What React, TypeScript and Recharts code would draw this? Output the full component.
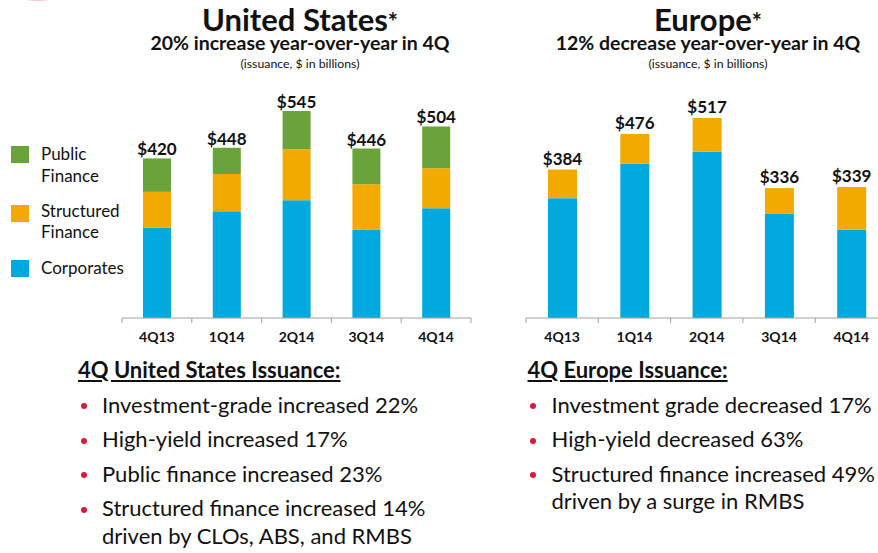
import { Bar, BarChart, LabelList, XAxis, YAxis } from "recharts";

const QUARTERS = ["4Q13", "1Q14", "2Q14", "3Q14", "4Q14"];

const US_CORPORATES = [238, 281, 310, 233, 289];
const US_STRUCTURED = [94, 98, 134, 119, 105];
const US_PUBLIC = [88, 69, 101, 94, 110];
const US_TOTALS = [420, 448, 545, 446, 504];

const EU_CORPORATES = [310, 399, 430, 270, 228];
const EU_STRUCTURED = [74, 77, 87, 66, 111];
const EU_TOTALS = [384, 476, 517, 336, 339];

const LEGEND_ITEMS = [
  { key: "public", lines: ["Public", "Finance"] },
  { key: "structured", lines: ["Structured", "Finance"] },
  { key: "corporates", lines: ["Corporates"] },
];

const US_BULLETS = [
  ["Investment-grade increased 22%"],
  ["High-yield increased 17%"],
  ["Public finance increased 23%"],
  ["Structured finance increased 14%", "driven by CLOs, ABS, and RMBS"],
];

const EU_BULLETS = [
  ["Investment grade decreased 17%"],
  ["High-yield decreased 63%"],
  ["Structured finance increased 49%", "driven by a surge in RMBS"],
];

const COLORS: Record<string, string> = {
  public: "#6ba33b",
  structured: "#f2aa00",
  corporates: "#00a9de",
};
const AXIS = "#a0a0a0";
const BULLET_RED = "#e0163c";
const FONT = "Lato, 'Open Sans', sans-serif";

const usData = QUARTERS.map((q, i) => ({
  quarter: q,
  corporates: US_CORPORATES[i],
  structured: US_STRUCTURED[i],
  public: US_PUBLIC[i],
  total: US_TOTALS[i],
}));

const euData = QUARTERS.map((q, i) => ({
  quarter: q,
  corporates: EU_CORPORATES[i],
  structured: EU_STRUCTURED[i],
  total: EU_TOTALS[i],
}));

// tick marks sit on the category boundaries, labels in the middle
function makeTick(band: number) {
  return (props: any) => {
    const { x, y, payload } = props;
    const half = band / 2;
    const isLast = payload.value === QUARTERS[QUARTERS.length - 1];
    return (
      <g>
        <line x1={x - half} x2={x - half} y1={y} y2={y + 5} stroke={AXIS} />
        {isLast && <line x1={x + half} x2={x + half} y1={y} y2={y + 5} stroke={AXIS} />}
        <text x={x} y={y + 24} textAnchor="middle" fontFamily={FONT} fontWeight={700} fontSize={14} fill="#111">
          {payload.value}
        </text>
      </g>
    );
  };
}

function RegionChart({ data, left, width, marginLeft, marginRight, marginTop, barSize, labelOffset, withPublic }: any) {
  const plotWidth = width - marginLeft - marginRight;
  const band = plotWidth / QUARTERS.length;
  const label = (
    <LabelList
      dataKey="total"
      position="top"
      offset={labelOffset}
      formatter={(v: any) => `$${v}`}
      style={{ fontFamily: FONT, fontWeight: 700, fontSize: 17, fill: "#111" }}
    />
  );
  return (
    <div style={{ position: "absolute", left, top: 0 }}>
      <BarChart
        width={width}
        height={360}
        data={data}
        barSize={barSize}
        margin={{ top: marginTop, right: marginRight, bottom: 12, left: marginLeft }}
      >
        <XAxis
          dataKey="quarter"
          height={30}
          axisLine={{ stroke: AXIS }}
          tickLine={false}
          tickSize={0}
          tickMargin={0}
          interval={0}
          tick={makeTick(band)}
        />
        <YAxis hide domain={[0, 600]} />
        <Bar dataKey="corporates" stackId="a" fill={COLORS.corporates} isAnimationActive={false} />
        <Bar dataKey="structured" stackId="a" fill={COLORS.structured} isAnimationActive={false}>
          {!withPublic && label}
        </Bar>
        {withPublic && (
          <Bar dataKey="public" stackId="a" fill={COLORS.public} isAnimationActive={false}>
            {label}
          </Bar>
        )}
      </BarChart>
    </div>
  );
}

function Heading({ center, title, subtitle }: { center: number; title: string; subtitle: string }) {
  const box = {
    position: "absolute" as const,
    left: center - 220,
    width: 440,
    textAlign: "center" as const,
    whiteSpace: "nowrap" as const,
  };
  return (
    <>
      <div style={{ ...box, top: 6, fontSize: 31, lineHeight: "26px", fontWeight: 700 }}>
        {title}
        <span style={{ fontSize: 24 }}>*</span>
      </div>
      <div style={{ ...box, top: 33, fontSize: 19.5, lineHeight: "19.5px", fontWeight: 700 }}>{subtitle}</div>
      <div style={{ ...box, top: 58, fontSize: 12.3, lineHeight: "12.3px" }}>(issuance, $ in billions)</div>
    </>
  );
}

function Bullets({ left, heading, items }: { left: number; heading: string; items: string[][] }) {
  const rows: { text: string; baseline: number; dot: boolean }[] = [];
  let baseline = 413.3;
  items.forEach((lines) => {
    lines.forEach((t, j) => {
      rows.push({ text: t, baseline, dot: j === 0 });
      baseline += j < lines.length - 1 ? 27.6 : 0;
    });
    baseline += 34.4;
  });
  const size = 22;
  const headSize = 22;
  return (
    <>
      <div
        style={{
          position: "absolute",
          left,
          top: 378.3 - 0.887 * headSize,
          fontSize: headSize,
          lineHeight: `${headSize}px`,
          fontWeight: 700,
          textDecoration: "underline",
          whiteSpace: "nowrap",
        }}
      >
        {heading}
      </div>
      {rows.map((r, i) => (
        <div key={i}>
          {r.dot && (
            <div
              style={{
                position: "absolute",
                left: left + 2.5,
                top: r.baseline - 10,
                width: 6,
                height: 6,
                borderRadius: 3,
                background: BULLET_RED,
              }}
            />
          )}
          <div
            style={{
              position: "absolute",
              left: left + 24,
              top: r.baseline - 0.887 * size,
              fontSize: size,
              lineHeight: `${size}px`,
              whiteSpace: "nowrap",
            }}
          >
            {r.text}
          </div>
        </div>
      ))}
    </>
  );
}

export default function App() {
  return (
    <div
      style={{
        position: "absolute",
        left: 0,
        top: 0,
        width: 878,
        height: 553,
        overflow: "hidden",
        background: "#fff",
        fontFamily: FONT,
        color: "#111",
      }}
    >
      <div
        style={{
          position: "absolute",
          left: 26,
          top: -2,
          width: 24,
          height: 3,
          borderRadius: 2,
          background: "radial-gradient(ellipse at center, rgba(232,48,76,0.7) 0%, rgba(232,48,76,0.15) 60%, rgba(255,255,255,0) 100%)",
        }}
      />
      <Heading center={300} title="United States" subtitle="20% increase year-over-year in 4Q" />
      <Heading center={708} title="Europe" subtitle="12% decrease year-over-year in 4Q" />

      {LEGEND_ITEMS.map((item, i) => {
        const squareTop = [146, 205, 260][i];
        const textTop = [143.3, 199.9, 256.6][i];
        return (
          <div key={item.key}>
            <div
              style={{ position: "absolute", left: 11, top: squareTop, width: 18, height: 17, background: COLORS[item.key] }}
            />
            <div
              style={{ position: "absolute", left: 41, top: textTop, fontSize: 17, lineHeight: "21.6px", whiteSpace: "nowrap" }}
            >
              {item.lines.map((l) => (
                <div key={l}>{l}</div>
              ))}
            </div>
          </div>
        );
      })}

      <RegionChart
        data={usData}
        left={0}
        width={480}
        marginLeft={122}
        marginRight={9}
        marginTop={90}
        barSize={28}
        labelOffset={3}
        withPublic
      />
      <RegionChart
        data={euData}
        left={440}
        width={460}
        marginLeft={86}
        marginRight={12.5}
        marginTop={86}
        barSize={29}
        labelOffset={5}
        withPublic={false}
      />

      <Bullets left={78} heading="4Q United States Issuance:" items={US_BULLETS} />
      <Bullets left={527.5} heading="4Q Europe Issuance:" items={EU_BULLETS} />
    </div>
  );
}
